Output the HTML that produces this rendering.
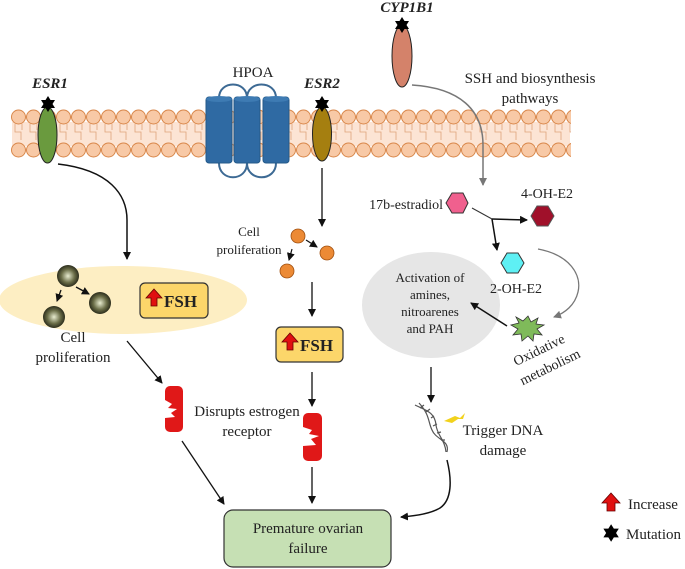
<!DOCTYPE html>
<html><head><meta charset="utf-8"><style>
html,body{margin:0;padding:0;background:#fff;}
svg{display:block;}
text{font-family:"Liberation Serif",serif;fill:#222;}
</style></head><body>
<svg width="685" height="569" viewBox="0 0 685 569" xmlns="http://www.w3.org/2000/svg">
<defs>
<marker id="ah" markerWidth="8" markerHeight="8" refX="7" refY="4" orient="auto" markerUnits="userSpaceOnUse"><path d="M0,0 L8,4 L0,8 z" fill="#111"/></marker>
<marker id="ag" markerWidth="8" markerHeight="8" refX="7" refY="4" orient="auto" markerUnits="userSpaceOnUse"><path d="M0,0 L8,4 L0,8 z" fill="#777"/></marker>
<radialGradient id="ball" cx="50%" cy="50%" r="50%"><stop offset="0" stop-color="#e8ecd0"/><stop offset="0.6" stop-color="#6b6e48"/><stop offset="1" stop-color="#2c2d1c"/></radialGradient>
<pattern id="circ" x="11" y="0" width="15" height="200" patternUnits="userSpaceOnUse">
<circle cx="7.5" cy="117" r="7" fill="#f8c9a6" stroke="#d9874a" stroke-width="1"/>
<circle cx="7.5" cy="150" r="7" fill="#f8c9a6" stroke="#d9874a" stroke-width="1"/>
<path d="M4,124 v8 h6 v8 M11,124 v6" fill="none" stroke="#e0a37a" stroke-width="0.8"/>
</pattern>
<g id="star"><polygon points="0,-8 2.5,-4 7,-4 4.5,0 7,4 2.5,4 0,8 -2.5,4 -7,4 -4.5,0 -7,-4 -2.5,-4" fill="#000"/></g>
</defs>

<!-- membrane -->
<rect x="12" y="122" width="558" height="24" fill="#fce4d4"/>
<rect x="11" y="108" width="560" height="52" fill="url(#circ)"/>

<!-- ESR1 -->
<text x="50" y="88" font-size="15" font-weight="bold" font-style="italic" text-anchor="middle">ESR1</text>
<ellipse cx="47.5" cy="135" rx="9.5" ry="28" fill="#6a9a3e" stroke="#222" stroke-width="1"/>
<use href="#star" x="48" y="104"/>

<!-- HPOA -->
<text x="253" y="77" font-size="15" text-anchor="middle">HPOA</text>
<path d="M219,98 C219,80 247,80 247,98 M247,98 C247,80 276,80 276,98" fill="none" stroke="#3d6a94" stroke-width="2"/>
<path d="M219,163 C219,182 247,182 247,163 M247,163 C247,182 276,182 276,163" fill="none" stroke="#3d6a94" stroke-width="2"/>
<g fill="#2f6aa3" stroke="#245a8a">
<rect x="206" y="97" width="26" height="66" rx="3"/><rect x="234" y="97" width="26" height="66" rx="3"/><rect x="263" y="97" width="26" height="66" rx="3"/>
</g>
<g fill="#3e7bb3"><ellipse cx="219" cy="99" rx="13" ry="3"/><ellipse cx="247" cy="99" rx="13" ry="3"/><ellipse cx="276" cy="99" rx="13" ry="3"/></g>

<!-- ESR2 -->
<text x="322" y="88" font-size="15" font-weight="bold" font-style="italic" text-anchor="middle">ESR2</text>
<ellipse cx="322" cy="134" rx="9.5" ry="27" fill="#a57f10" stroke="#222" stroke-width="1"/>
<use href="#star" x="322" y="104"/>

<!-- CYP1B1 -->
<text x="407" y="12" font-size="15" font-weight="bold" font-style="italic" text-anchor="middle">CYP1B1</text>
<ellipse cx="402" cy="56" rx="10" ry="31" fill="#d4826a" stroke="#222" stroke-width="1"/>
<use href="#star" x="402" y="25"/>

<text x="530" y="83" font-size="15" text-anchor="middle">SSH and biosynthesis</text>
<text x="530" y="103" font-size="15" text-anchor="middle">pathways</text>
<path d="M412,85 C460,88 483,110 483,145 L483,185" fill="none" stroke="#777" stroke-width="1.5" marker-end="url(#ag)"/>

<!-- left column -->
<path d="M58,164 C110,170 127,195 127,220 L127,259" fill="none" stroke="#111" stroke-width="1.5" marker-end="url(#ah)"/>
<ellipse cx="123" cy="300" rx="124" ry="34" fill="#fdeec3"/>
<circle cx="68" cy="276" r="11" fill="url(#ball)"/>
<circle cx="100" cy="303" r="11" fill="url(#ball)"/>
<circle cx="54" cy="317" r="11" fill="url(#ball)"/>
<line x1="76" y1="287" x2="89" y2="294" stroke="#111" stroke-width="1.3" marker-end="url(#ah)"/>
<line x1="61" y1="290" x2="57" y2="301" stroke="#111" stroke-width="1.3" marker-end="url(#ah)"/>
<rect x="140" y="283" width="68" height="35" rx="5" fill="#fcd66a" stroke="#333" stroke-width="1.2"/>
<path d="M151,306 v-8 h-5 l8,-9 l8,9 h-5 v8 z" fill="#e01010" stroke="#600" stroke-width="0.8"/>
<text x="164" y="307" font-size="17" font-weight="bold">FSH</text>
<text x="73" y="342" font-size="15" text-anchor="middle">Cell</text>
<text x="73" y="362" font-size="15" text-anchor="middle">proliferation</text>
<line x1="127" y1="341" x2="162" y2="383" stroke="#111" stroke-width="1.3" marker-end="url(#ah)"/>

<!-- receptors -->
<g>
<rect x="165" y="386" width="18" height="46" rx="5" fill="#e01818"/>
<polygon points="165,400 172,404 168,408 177,409 171,413 175,417 165,418" fill="#fff"/>
</g>
<g>
<rect x="303" y="413" width="19" height="48" rx="5" fill="#e01818"/>
<polygon points="303,427 312,430 309,434 319,436 311,439 316,445 303,446" fill="#fff"/>
</g>
<text x="247" y="416" font-size="15" text-anchor="middle">Disrupts estrogen</text>
<text x="247" y="436" font-size="15" text-anchor="middle">receptor</text>
<line x1="182" y1="441" x2="224" y2="504" stroke="#111" stroke-width="1.3" marker-end="url(#ah)"/>

<!-- middle column -->
<line x1="322" y1="168" x2="322" y2="226" stroke="#111" stroke-width="1.3" marker-end="url(#ah)"/>
<circle cx="298" cy="236" r="7" fill="#ec8a35" stroke="#a05010" stroke-width="0.8"/>
<circle cx="327" cy="253" r="7" fill="#ec8a35" stroke="#a05010" stroke-width="0.8"/>
<circle cx="287" cy="271" r="7" fill="#ec8a35" stroke="#a05010" stroke-width="0.8"/>
<line x1="306" y1="240" x2="317" y2="247" stroke="#111" stroke-width="1.2" marker-end="url(#ah)"/>
<line x1="292" y1="249" x2="289" y2="260" stroke="#111" stroke-width="1.2" marker-end="url(#ah)"/>
<text x="249" y="236" font-size="13" text-anchor="middle">Cell</text>
<text x="249" y="254" font-size="13" text-anchor="middle">proliferation</text>
<line x1="312" y1="282" x2="312" y2="316" stroke="#111" stroke-width="1.3" marker-end="url(#ah)"/>
<rect x="276" y="327" width="67" height="35" rx="5" fill="#fcd66a" stroke="#333" stroke-width="1.2"/>
<path d="M287,350 v-8 h-5 l8,-9 l8,9 h-5 v8 z" fill="#e01010" stroke="#600" stroke-width="0.8"/>
<text x="300" y="351" font-size="17" font-weight="bold">FSH</text>
<line x1="312" y1="372" x2="312" y2="406" stroke="#111" stroke-width="1.3" marker-end="url(#ah)"/>
<line x1="312" y1="467" x2="312" y2="503" stroke="#111" stroke-width="1.3" marker-end="url(#ah)"/>

<!-- premature -->
<rect x="224" y="510" width="167" height="57" rx="9" fill="#c6e0b4" stroke="#333" stroke-width="1.2"/>
<text x="308" y="533" font-size="15" text-anchor="middle">Premature ovarian</text>
<text x="308" y="553" font-size="15" text-anchor="middle">failure</text>

<!-- right side -->
<text x="443" y="209" font-size="14" text-anchor="end">17b-estradiol</text>
<polygon points="446,203 452,193 463,193 468,203 463,213 452,213" fill="#f0608e" stroke="#333" stroke-width="1"/>
<text x="547" y="198" font-size="14" text-anchor="middle">4-OH-E2</text>
<polygon points="531,216 537,206 548,206 554,216 548,226 537,226" fill="#a0102a" stroke="#555" stroke-width="1"/>
<line x1="472" y1="208" x2="492" y2="219" stroke="#333" stroke-width="1"/>
<line x1="492" y1="219" x2="527" y2="220" stroke="#111" stroke-width="1.5" marker-end="url(#ah)"/>
<line x1="492" y1="219" x2="497" y2="250" stroke="#111" stroke-width="1.5" marker-end="url(#ah)"/>
<polygon points="501,263 507,253 518,253 524,263 518,273 507,273" fill="#5ef0f4" stroke="#333" stroke-width="1"/>
<ellipse cx="431" cy="305" rx="69" ry="53" fill="#e6e6e6"/>
<text x="516" y="293" font-size="14" text-anchor="middle">2-OH-E2</text>
<text x="430" y="282" font-size="13" text-anchor="middle">Activation of</text>
<text x="430" y="299" font-size="13" text-anchor="middle">amines,</text>
<text x="430" y="316" font-size="13" text-anchor="middle">nitroarenes</text>
<text x="430" y="333" font-size="13" text-anchor="middle">and PAH</text>
<path d="M538,249 C570,255 582,275 578,292 C575,305 565,313 554,317" fill="none" stroke="#777" stroke-width="1.3" marker-end="url(#ag)"/>
<polygon points="528,316 531,322 538,318 536,324 544,325 537,329 542,335 534,334 533,341 528,336 522,341 521,334 513,335 518,329 511,325 519,323 516,317 523,321" fill="#7fba5a" stroke="#333" stroke-width="0.8"/>
<line x1="507" y1="326" x2="471" y2="303" stroke="#111" stroke-width="1.5" marker-end="url(#ah)"/>
<text x="541" y="354" font-size="14" text-anchor="middle" transform="rotate(-26 541 354)">Oxidative</text>
<text x="552" y="371" font-size="14" text-anchor="middle" transform="rotate(-26 552 371)">metabolism</text>

<line x1="431" y1="367" x2="431" y2="402" stroke="#111" stroke-width="1.3" marker-end="url(#ah)"/>
<!-- DNA -->
<g fill="none" stroke="#555" stroke-width="1.2">
<path d="M415,405 C425,410 435,412 436,425 C437,435 445,440 446,452"/>
<path d="M419,403 C430,415 428,422 432,430 C436,440 450,440 447,452"/>
<path d="M420,408 l4,-3 M426,412 l4,-3 M431,418 l3,-2 M433,426 l4,-2 M437,433 l4,-1 M441,440 l4,0"/>
</g>
<polygon points="444,421 455,416 460,418 465,413 463,419 458,419 452,423" fill="#f2d21c"/>
<text x="503" y="435" font-size="15" text-anchor="middle">Trigger DNA</text>
<text x="503" y="455" font-size="15" text-anchor="middle">damage</text>
<path d="M447,460 C452,480 452,500 440,508 C430,514 415,516 401,517" fill="none" stroke="#111" stroke-width="1.5" marker-end="url(#ah)"/>

<!-- legend -->
<path d="M607,511 v-8 h-5 l9,-10 l9,10 h-5 v8 z" fill="#e01010" stroke="#600" stroke-width="0.8"/>
<text x="628" y="509" font-size="15">Increase</text>
<use href="#star" x="611" y="533" transform="translate(-61 -53.3) scale(1.1)"/>
<text x="626" y="539" font-size="15">Mutation</text>
</svg>
</body></html>
